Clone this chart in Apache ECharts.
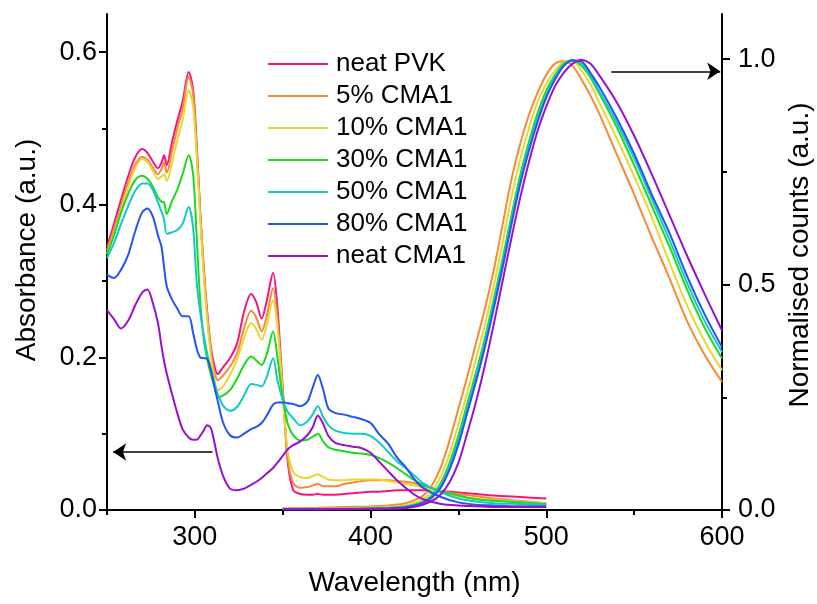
<!DOCTYPE html>
<html>
<head>
<meta charset="utf-8">
<title>Absorbance / PL spectra</title>
<script src="https://cdn.jsdelivr.net/npm/echarts@6/dist/echarts.min.js"></script>
<style>
  html, body { margin: 0; padding: 0; background: #fff; }
  #chart { width: 817px; height: 604px; }
</style>
</head>
<body>
<div id="chart"></div>
<script>
// absorbance wavelengths (nm), left axis
var absWl = [250, 254, 258, 262, 266, 270, 273, 276, 279, 281,
  282.5, 284, 287, 290, 293, 296.5, 299, 301, 303, 305,
  307, 309, 311, 313, 316, 320, 324, 328, 332, 335,
  338, 341, 344.5, 347, 349, 351, 353, 356, 360, 364,
  367, 370, 373, 376, 380, 385, 390, 395, 400, 405,
  410, 415, 420, 425, 430, 440, 450, 460, 470, 485,
  500];

var absPVK = [.345, .375, .407, .437, .462, .473, .468, .457, .448, .455,
  .465, .452, .482, .510, .535, .574, .551, .481, .393, .320,
  .260, .215, .190, .178, .187, .199, .218, .260, .283, .272,
  .251, .275, .311, .265, .195, .125, .060, .026, .021, .020,
  .020, .021, .020, .020, .020, .021, .022, .023, .024, .024,
  .025, .026, .026, .026, .026, .025, .023, .021, .019, .017,
  .015];
var absCMA5 = [.340, .368, .398, .428, .452, .463, .459, .449, .440, .447,
  .455, .442, .470, .500, .525, .568, .545, .475, .390, .315,
  .255, .210, .182, .170, .176, .188, .205, .238, .261, .252,
  .234, .255, .291, .250, .188, .122, .065, .035, .029, .030,
  .032, .034, .031, .031, .031, .034, .036, .038, .039, .039,
  .039, .038, .037, .035, .031, .025, .021, .018, .015, .012,
  .009];
var absCMA10 = [.336, .362, .393, .423, .448, .460, .456, .445, .434, .437,
  .440, .431, .455, .485, .510, .550, .530, .465, .385, .310,
  .250, .205, .172, .157, .162, .177, .197, .225, .245, .237,
  .223, .243, .275, .240, .180, .120, .075, .050, .043, .042,
  .044, .047, .043, .040, .039, .039, .040, .040, .040, .040,
  .038, .036, .034, .032, .029, .023, .018, .015, .013, .011,
  .009];
var absCMA30 = [.335, .360, .390, .414, .432, .438, .434, .424, .410, .404,
  .403, .388, .405, .420, .440, .465, .440, .360, .275, .225,
  .198, .178, .163, .148, .150, .157, .172, .190, .201, .196,
  .190, .205, .234, .200, .163, .135, .112, .098, .091, .092,
  .096, .100, .090, .082, .079, .077, .075, .074, .072, .068,
  .062, .055, .047, .039, .033, .025, .019, .014, .012, .010,
  .008];
var absCMA50 = [.330, .350, .375, .398, .418, .428, .428, .420, .403, .391,
  .381, .362, .364, .367, .375, .397, .370, .300, .260, .230,
  .205, .185, .168, .152, .137, .130, .135, .150, .165, .164,
  .162, .175, .199, .170, .152, .138, .128, .120, .111, .116,
  .125, .136, .122, .111, .104, .101, .100, .100, .097, .088,
  .076, .064, .055, .045, .035, .023, .015, .011, .009, .008,
  .007];
var absCMA80 = [.308, .304, .315, .334, .365, .390, .395, .385, .360, .345,
  .318, .293, .276, .264, .254, .254, .232, .212, .200, .199,
  .198, .185, .163, .143, .115, .098, .095, .100, .106, .109,
  .114, .124, .138, .141, .141, .141, .140, .139, .136, .142,
  .160, .177, .158, .133, .127, .125, .122, .119, .114, .099,
  .087, .069, .056, .040, .029, .017, .010, .007, .006, .005,
  .005];
var absCMA = [.262, .250, .238, .248, .268, .285, .289, .272, .245, .215,
  .195, .179, .152, .127, .106, .095, .092, .092, .097, .104,
  .111, .108, .090, .068, .045, .028, .026, .028, .033, .037,
  .042, .048, .055, .062, .068, .074, .080, .085, .090, .098,
  .108, .124, .113, .097, .088, .085, .083, .081, .075, .063,
  .051, .039, .029, .020, .014, .008, .006, .005, .004, .004,
  .004];

// photoluminescence wavelengths (nm), right axis (normalised)
var plWl = [350, 370, 390, 400, 410, 415, 420, 425, 430, 435,
  440, 445, 450, 455, 460, 465, 470, 475, 480, 485,
  490, 495, 500, 505, 510, 515, 520, 525, 530, 540,
  550, 560, 570, 580, 590, 600];

var plCMA5 = [.004, .005, .007, .008, .010, .012, .015, .022, .032, .055,
  .095, .155, .225, .295, .370, .445, .530, .630, .730, .810,
  .875, .925, .965, .990, .995, .985, .955, .920, .880, .790,
  .700, .605, .515, .420, .345, .284];
var plCMA10 = [.003, .003, .004, .005, .007, .008, .010, .016, .024, .042,
  .075, .125, .190, .260, .335, .410, .495, .590, .690, .775,
  .845, .905, .945, .975, .993, .995, .975, .945, .905, .825,
  .740, .650, .550, .455, .375, .310];
var plCMA30 = [.002, .002, .003, .004, .005, .006, .008, .012, .019, .033,
  .060, .105, .165, .235, .305, .380, .465, .555, .650, .740,
  .815, .880, .930, .965, .990, .998, .985, .960, .925, .850,
  .765, .675, .585, .490, .405, .336];
var plCMA50 = [.002, .002, .003, .003, .004, .005, .007, .011, .017, .030,
  .055, .098, .155, .225, .295, .370, .455, .545, .640, .730,
  .805, .870, .920, .960, .987, .997, .990, .965, .930, .860,
  .780, .690, .600, .505, .420, .350];
var plCMA80 = [.002, .002, .002, .003, .004, .005, .006, .010, .016, .028,
  .050, .090, .145, .215, .285, .360, .445, .535, .630, .720,
  .795, .860, .915, .955, .985, .997, .995, .970, .940, .870,
  .790, .700, .615, .520, .435, .361];
var plCMA = [.001, .001, .002, .002, .003, .003, .004, .007, .012, .020,
  .035, .062, .105, .170, .240, .320, .410, .505, .600, .690,
  .770, .840, .895, .940, .970, .990, .998, .990, .965, .905,
  .830, .745, .655, .565, .480, .398];

var names = ["neat PVK", "5% CMA1", "10% CMA1", "30% CMA1", "50% CMA1", "80% CMA1", "neat CMA1"];
var colors = ["#F5157F", "#F7893A", "#E6D92E", "#1ED81E", "#14C8C8", "#2255F5", "#9B10CC"];
var absSets = [absPVK, absCMA5, absCMA10, absCMA30, absCMA50, absCMA80, absCMA];
var plSets = [null, plCMA5, plCMA10, plCMA30, plCMA50, plCMA80, plCMA];

// arrows pointing to the axis each group belongs to
var arrowAbs = [[310, 0.076], [253.5, 0.076]];
var arrowPL = [[537, 0.973], [599, 0.973]];

var font = 'Arial, "Liberation Sans", Helvetica, sans-serif';

function pairs(xs, ys) {
  return xs.map(function (x, i) { return [x, ys[i]]; });
}

var myChart = echarts.init(document.getElementById("chart"));

var series = [];
for (let i = 0; i < names.length; i++) {
  let obj = {
    name: names[i],
    type: "line",
    xAxisIndex: 0,
    yAxisIndex: 0,
    data: pairs(absWl, absSets[i]),
    showSymbol: false,
    smooth: 0.3,
    lineStyle: { color: colors[i], width: 2 },
    itemStyle: { color: colors[i] },
    z: 2 + i
  };
  series.push(obj);
}
for (let i = 0; i < names.length; i++) {
  if (!plSets[i]) continue;
  series.push({
    name: names[i],
    type: "line",
    xAxisIndex: 0,
    yAxisIndex: 1,
    data: pairs(plWl, plSets[i]),
    showSymbol: false,
    smooth: 0.3,
    lineStyle: { color: colors[i], width: 2 },
    itemStyle: { color: colors[i] },
    z: 2 + i
  });
}

function arrowLine(pts) {
  return {
    silent: true,
    symbol: ["none", "arrow"],
    symbolSize: 13,
    label: { show: false },
    lineStyle: { color: "#000", width: 1.5, type: "solid" },
    emphasis: { disabled: true },
    data: [[{ coord: pts[0] }, { coord: pts[1] }]]
  };
}
series[0].markLine = arrowLine(arrowAbs);
series[names.length].markLine = arrowLine(arrowPL);

var axisLineStyle = { show: true, lineStyle: { color: "#000", width: 2 } };

var option = {
  animation: false,
  backgroundColor: "#fff",
  textStyle: { fontFamily: font },
  grid: {
    left: 107,
    right: 95,
    top: 14,
    bottom: 94,
    outerBoundsMode: "none"
  },
  legend: {
    orient: "vertical",
    left: 263,
    top: 46,
    icon: "rect",
    itemWidth: 60,
    itemHeight: 2,
    itemGap: 6,
    data: names,
    textStyle: {
      fontFamily: font,
      fontSize: 26,
      color: "#000",
      lineHeight: 26,
      padding: [0, 0, 0, 3]
    }
  },
  xAxis: [
    {
      type: "value",
      min: 250,
      max: 600,
      position: "bottom",
      name: "Wavelength (nm)",
      nameLocation: "middle",
      nameGap: 59,
      nameTextStyle: { fontFamily: font, fontSize: 28, color: "#000" },
      axisLine: axisLineStyle,
      axisTick: { show: true, length: 8, lineStyle: { color: "#000", width: 2 }, customValues: [300, 400, 500, 600] },
      axisLabel: { fontFamily: font, fontSize: 27, color: "#000", margin: 14, customValues: [300, 400, 500, 600] },
      splitLine: { show: false }
    },
    {
      type: "value",
      min: 250,
      max: 600,
      position: "bottom",
      axisLine: { show: false },
      axisTick: { show: true, length: 5, lineStyle: { color: "#000", width: 2 }, customValues: [250, 350, 450, 550] },
      axisLabel: { show: false },
      splitLine: { show: false }
    },
    {
      type: "value",
      min: 250,
      max: 600,
      position: "top",
      axisLine: axisLineStyle,
      axisTick: { show: true, inside: true, length: 8, lineStyle: { color: "#000", width: 2 }, customValues: [300, 400, 500] },
      axisLabel: { show: false },
      splitLine: { show: false }
    },
    {
      type: "value",
      min: 250,
      max: 600,
      position: "top",
      axisLine: { show: false },
      axisTick: { show: true, inside: true, length: 4, lineStyle: { color: "#000", width: 2 }, customValues: [350, 450, 550] },
      axisLabel: { show: false },
      splitLine: { show: false }
    }
  ],
  yAxis: [
    {
      type: "value",
      min: 0,
      max: 0.65,
      position: "left",
      name: "Absorbance (a.u.)",
      nameLocation: "middle",
      nameRotate: 90,
      nameGap: 66,
      nameTextStyle: { fontFamily: font, fontSize: 28, color: "#000", padding: [0, 0, 0, 24] },
      axisLine: axisLineStyle,
      axisTick: { show: true, length: 8, lineStyle: { color: "#000", width: 2 }, customValues: [0, 0.2, 0.4, 0.6] },
      axisLabel: {
        fontFamily: font, fontSize: 27, color: "#000", margin: 10,
        customValues: [0, 0.2, 0.4, 0.6],
        formatter: function (v) { return v.toFixed(1); }
      },
      splitLine: { show: false }
    },
    {
      type: "value",
      min: 0,
      max: 1.1,
      position: "right",
      name: "Normalised counts (a.u.)",
      nameLocation: "middle",
      nameRotate: 90,
      nameGap: 64,
      nameTextStyle: { fontFamily: font, fontSize: 28, color: "#000", padding: [0, 0, 0, 14] },
      axisLine: axisLineStyle,
      axisTick: { show: true, length: 8, lineStyle: { color: "#000", width: 2 }, customValues: [0, 0.5, 1.0] },
      axisLabel: {
        fontFamily: font, fontSize: 27, color: "#000", margin: 16,
        customValues: [0, 0.5, 1.0],
        formatter: function (v) { return v.toFixed(1); }
      },
      splitLine: { show: false }
    },
    {
      type: "value",
      min: 0,
      max: 0.65,
      position: "left",
      axisLine: { show: false },
      axisTick: { show: true, length: 5, lineStyle: { color: "#000", width: 2 }, customValues: [0.1, 0.3, 0.5] },
      axisLabel: { show: false },
      splitLine: { show: false }
    },
    {
      type: "value",
      min: 0,
      max: 1.1,
      position: "right",
      axisLine: { show: false },
      axisTick: { show: true, length: 5, lineStyle: { color: "#000", width: 2 }, customValues: [0.25, 0.75] },
      axisLabel: { show: false },
      splitLine: { show: false }
    }
  ],
  series: series
};

myChart.setOption(option, true);
</script>
</body>
</html>
